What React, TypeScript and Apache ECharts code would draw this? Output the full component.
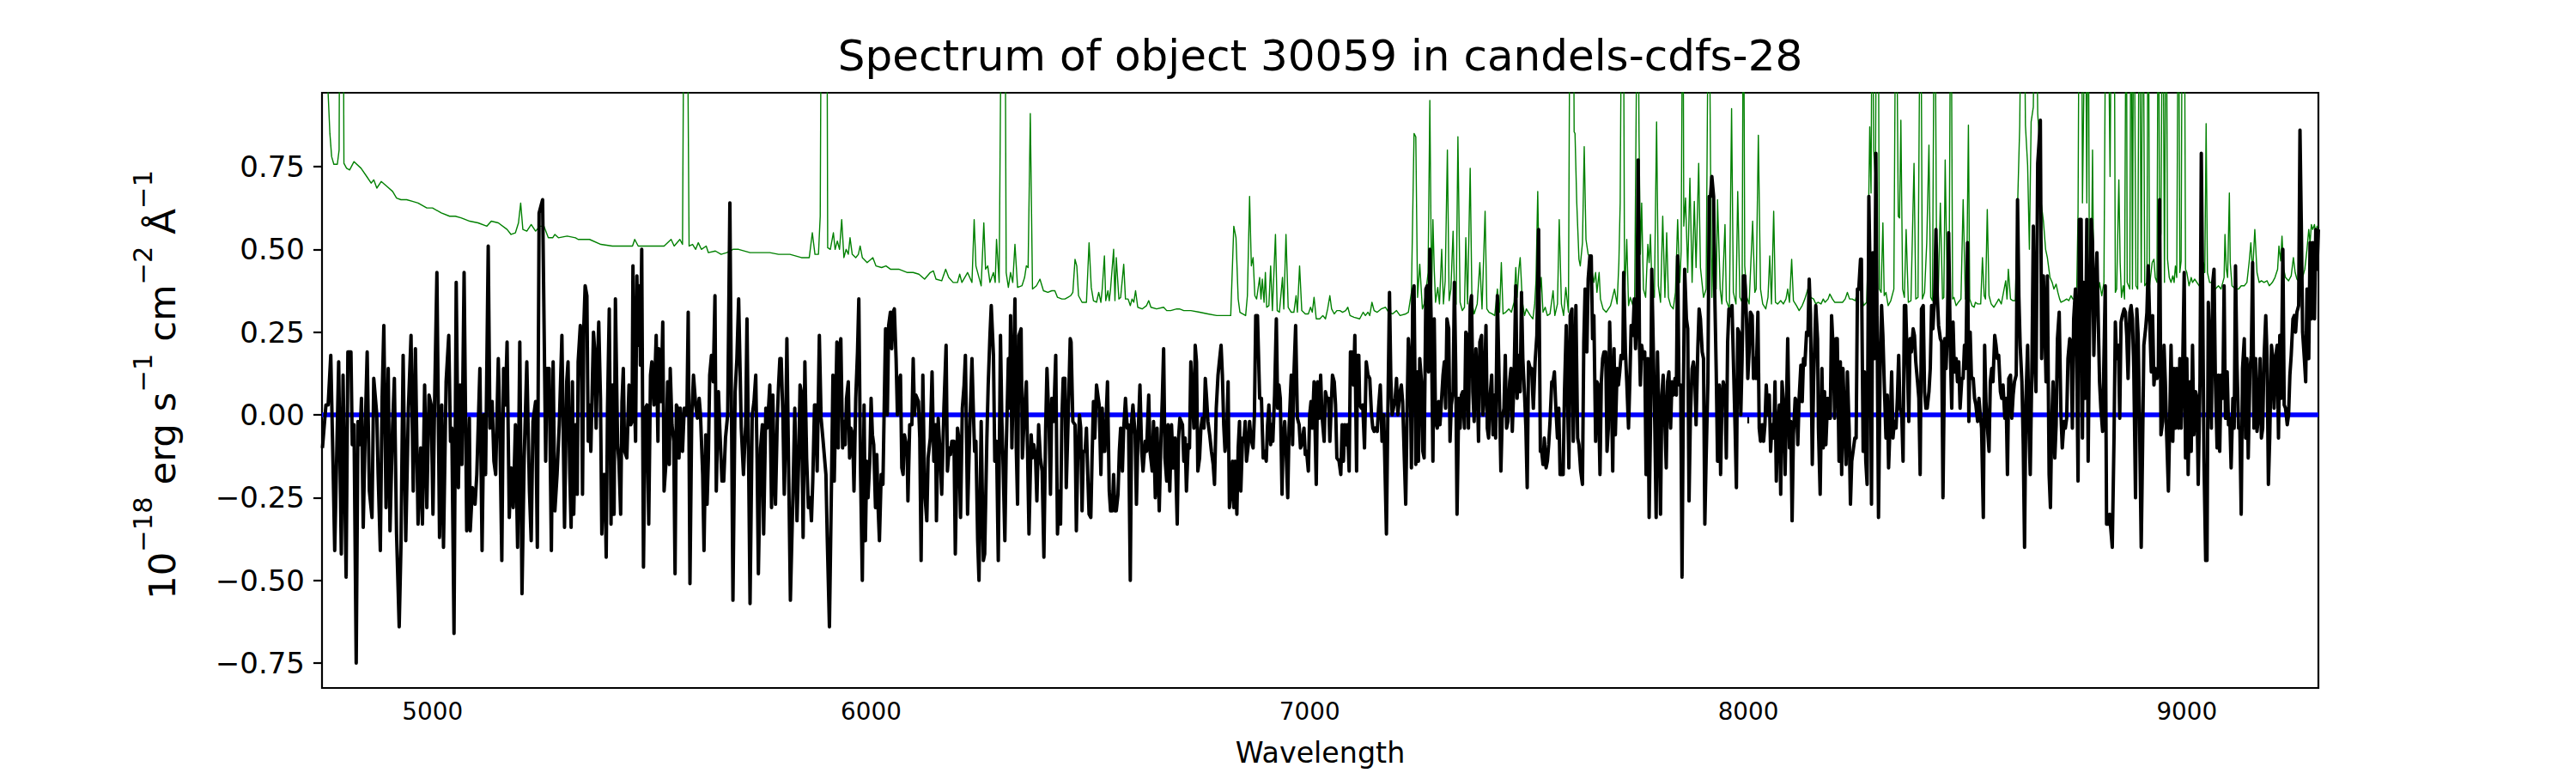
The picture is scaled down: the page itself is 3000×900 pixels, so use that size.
import React, { useEffect, useRef } from "react";
import * as echarts from "echarts";

const FONT = "'DejaVu Sans', sans-serif";
const TITLE = "Spectrum of object 30059 in candels-cdfs-28";
const X_LABEL = "Wavelength";
const Y_LABEL_RICH = "{n|10}{s|\u221218}{n| erg s}{s|\u22121}{n| cm}{s|\u22122}{n| \u00c5}{s|\u22121}";
const X_MIN = 4748;
const X_MAX = 9300;
const Y_MIN = -0.825;
const Y_MAX = 0.973;
const X_TICKS = [5000, 6000, 7000, 8000, 9000];
const Y_TICKS = [-0.75, -0.5, -0.25, 0, 0.25, 0.5, 0.75];
const ZERO_LEVEL = 0;

// observed flux (black), [wavelength, value]
const flux1 = [[4749,-0.10],[4757,0.03],[4762,0.03],[4768,0.18],[4773,-0.14],[4777,-0.41],[4786,0.16],[4792,-0.42],[4796,0.12],[4803,-0.49],[4807,0.19],[4814,0.19],[4817,-0.09],[4821,-0.03],[4826,-0.75],[4830,-0.02],[4834,-0.09],[4838,0.05],[4842,-0.34],[4847,-0.02],[4851,0.19],[4856,-0.23],[4862,-0.31],[4866,0.11],[4873,0.00],[4876,-0.18],[4881,-0.41],[4885,0.05],[4889,0.27],[4894,-0.28],[4899,0.14],[4903,-0.35],[4909,-0.03],[4913,0.11],[4918,-0.36],[4924,-0.64],[4928,-0.40],[4933,0.18],[4939,-0.38],[4945,0.02],[4951,0.24],[4956,-0.23],[4961,0.20],[4967,-0.33],[4973,-0.10],[4977,-0.33],[4982,0.09],[4987,-0.28],[4992,0.06],[4997,0.03],[5001,-0.30],[5005,0.06],[5010,0.43],[5016,-0.37],[5021,0.03],[5025,-0.40],[5031,0.10],[5037,0.24],[5041,-0.08],[5044,-0.04],[5049,-0.66],[5054,0.40],[5059,-0.22],[5063,0.09],[5067,-0.15],[5072,0.43],[5078,-0.35],[5084,-0.01],[5086,-0.35],[5091,-0.22],[5097,-0.27],[5101,-0.18],[5108,0.14],[5113,-0.41],[5117,0.00],[5121,-0.18],[5127,0.51],[5131,-0.04],[5136,0.04],[5140,-0.14],[5144,-0.18],[5150,0.17],[5153,0.00],[5158,-0.44],[5162,0.14],[5166,0.03],[5170,0.22],[5175,-0.31],[5179,-0.16],[5184,-0.28],[5189,-0.03],[5194,-0.40],[5199,0.22],[5204,-0.54],[5209,-0.13],[5215,0.16],[5221,-0.23],[5225,-0.38],[5229,-0.02],[5235,0.04],[5239,-0.40],[5243,0.61],[5251,0.65],[5258,-0.14],[5261,0.14],[5266,0.14],[5271,-0.41],[5275,0.16],[5279,-0.29],[5284,-0.18],[5289,-0.03],[5295,0.24],[5301,-0.34]];
const flux2 = [[5306,0.10],[5309,0.16],[5313,-0.18],[5316,-0.34],[5319,0.10],[5322,-0.30],[5326,-0.03],[5330,-0.24],[5332,0.16],[5337,0.27],[5340,0.10],[5342,-0.24],[5345,0.27],[5348,0.39],[5352,0.36],[5355,-0.08],[5358,0.03],[5361,-0.11],[5367,0.25],[5370,0.19],[5373,-0.04],[5376,0.14],[5379,0.28],[5383,0.05],[5386,-0.36],[5390,-0.18],[5393,-0.18],[5396,-0.43],[5399,0.02],[5403,0.32],[5407,-0.33],[5410,0.09],[5414,-0.30],[5417,0.35],[5422,-0.09],[5425,-0.14],[5429,-0.30],[5432,0.04],[5435,0.14],[5438,-0.11],[5443,-0.13],[5448,0.09],[5452,-0.03],[5455,-0.02],[5457,0.45],[5460,0.08],[5463,-0.08],[5466,0.42],[5469,0.21],[5472,0.39],[5474,0.15],[5477,0.50],[5481,-0.46],[5485,0.02],[5489,0.03],[5493,-0.33],[5497,0.12],[5500,0.16],[5505,0.03],[5510,0.24],[5514,-0.08],[5516,0.20],[5521,0.04],[5525,0.28],[5528,-0.23],[5532,-0.15],[5536,0.10],[5540,-0.15],[5542,0.14],[5546,-0.03],[5550,-0.08],[5553,-0.48],[5556,0.03],[5559,0.02],[5562,-0.13],[5565,0.02],[5570,-0.11],[5574,0.02],[5580,0.00],[5583,0.31],[5587,-0.51],[5591,-0.01],[5595,0.12],[5600,0.03],[5604,-0.01],[5608,0.05],[5611,0.00],[5616,-0.18],[5619,-0.41],[5623,-0.06],[5626,-0.27],[5629,-0.13],[5632,0.12],[5636,0.18],[5640,0.10],[5644,0.36],[5647,-0.23],[5652,0.07],[5655,-0.04],[5660,-0.20],[5664,-0.20],[5668,-0.07],[5673,0.00],[5678,0.64],[5685,-0.56],[5690,0.07],[5694,0.17],[5698,0.35],[5704,-0.04],[5709,-0.18],[5714,-0.03],[5717,0.29],[5721,-0.18],[5724,-0.57],[5729,0.00],[5733,0.04],[5737,0.12],[5740,-0.13],[5743,-0.48],[5748,-0.10],[5752,-0.03],[5755,-0.36],[5760,0.02],[5763,-0.04],[5766,0.02],[5769,0.09],[5773,-0.28],[5776,0.06],[5779,-0.17],[5782,-0.27],[5786,-0.02],[5789,0.09],[5792,0.17],[5795,0.17],[5799,-0.01],[5802,-0.24],[5805,-0.07],[5808,0.23],[5813,-0.26],[5816,-0.56],[5822,-0.23],[5826,0.02],[5831,-0.32],[5835,-0.13],[5838,0.09],[5841,0.07],[5845,-0.37],[5849,0.16],[5853,-0.13],[5857,-0.28],[5861,-0.25],[5864,-0.32],[5867,-0.20],[5871,0.03]];
const flux3 = [[5874,0.03],[5877,-0.17],[5882,0.24],[5886,-0.01],[5890,-0.07],[5897,-0.18],[5900,-0.37],[5905,-0.64],[5910,-0.18],[5913,0.12],[5916,-0.20],[5922,0.22],[5925,-0.10],[5928,0.20],[5931,0.23],[5935,-0.10],[5938,-0.02],[5941,-0.09],[5944,0.05],[5948,0.10],[5951,-0.13],[5954,-0.04],[5958,-0.06],[5961,-0.23],[5965,0.05],[5969,0.19],[5972,0.35],[5976,-0.18],[5980,-0.50],[5984,0.03],[5987,-0.38],[5990,-0.14],[5993,-0.25],[5997,-0.14],[6000,0.05],[6003,-0.06],[6006,-0.09],[6010,-0.28],[6013,-0.12],[6016,-0.28],[6019,-0.38],[6023,-0.18],[6027,-0.21],[6031,0.11],[6033,0.26],[6037,0.00],[6040,0.27],[6044,0.31],[6047,0.20],[6050,0.31],[6053,0.32],[6057,0.17],[6060,0.00],[6063,0.10],[6067,0.12],[6070,-0.16],[6073,-0.18],[6076,-0.06],[6082,-0.10],[6084,-0.26],[6088,-0.03],[6093,-0.03],[6096,0.17],[6099,0.00],[6102,0.06],[6108,0.04],[6111,-0.07],[6114,-0.44],[6118,0.12],[6122,-0.23],[6127,-0.32],[6130,-0.13],[6135,-0.07],[6139,0.13],[6143,-0.14],[6147,-0.03],[6149,-0.32],[6153,-0.01],[6157,-0.11],[6161,-0.24],[6166,0.02],[6171,0.21],[6174,-0.17],[6178,-0.10],[6181,-0.12],[6184,-0.08],[6189,-0.08],[6192,-0.42],[6197,-0.04],[6200,-0.07],[6204,-0.31],[6208,0.02],[6212,0.09],[6215,0.18],[6220,-0.30],[6225,-0.04],[6230,0.17],[6233,0.02],[6236,-0.11],[6239,-0.08],[6243,-0.38],[6246,-0.50],[6251,-0.02],[6256,-0.44],[6259,-0.42],[6264,-0.07],[6267,0.09],[6271,0.24],[6274,0.33],[6279,0.18],[6282,-0.14],[6286,-0.08],[6290,-0.44],[6295,0.24],[6298,-0.01],[6301,-0.15],[6305,-0.38],[6308,-0.11],[6313,0.17],[6316,0.02],[6318,0.30],[6321,-0.10],[6324,0.09],[6328,0.35],[6331,-0.10],[6334,-0.27],[6337,0.24],[6342,0.26],[6345,-0.13],[6350,0.02],[6354,0.10],[6357,-0.13],[6360,-0.36],[6365,-0.06],[6368,-0.13],[6371,-0.09],[6375,-0.13],[6378,-0.26],[6382,-0.03],[6386,-0.13],[6390,-0.17],[6394,-0.43],[6398,-0.04],[6401,0.14],[6406,-0.04],[6409,-0.24],[6412,0.05],[6416,-0.02],[6421,0.18],[6425,-0.36],[6429,-0.23],[6432,-0.33],[6435,-0.01],[6438,0.11]];
const flux4 = [[6442,0.11],[6445,-0.22],[6450,0.02],[6454,0.23],[6456,0.22],[6460,-0.02],[6465,-0.03],[6468,-0.35],[6471,-0.14],[6475,0.00],[6478,-0.04],[6481,-0.29],[6484,-0.11],[6488,-0.11],[6491,-0.04],[6494,-0.18],[6497,-0.30],[6501,-0.31],[6504,-0.12],[6507,0.04],[6510,-0.07],[6514,0.09],[6517,0.06],[6520,0.03],[6524,-0.18],[6527,0.02],[6530,-0.11],[6533,-0.11],[6539,0.10],[6543,-0.23],[6546,-0.29],[6550,-0.29],[6553,-0.18],[6556,-0.29],[6559,-0.29],[6563,-0.24],[6566,-0.11],[6569,-0.04],[6573,-0.17],[6576,-0.04],[6580,0.05],[6584,-0.04],[6587,-0.03],[6591,-0.50],[6594,-0.02],[6597,0.03],[6602,-0.06],[6605,-0.27],[6608,-0.09],[6613,0.09],[6617,-0.11],[6620,-0.17],[6625,-0.08],[6628,-0.11],[6633,0.06],[6636,-0.11],[6641,-0.17],[6644,-0.02],[6648,-0.25],[6652,-0.04],[6657,-0.29],[6661,-0.07],[6664,0.05],[6667,0.20],[6670,-0.13],[6674,-0.20],[6677,-0.03],[6681,-0.23],[6685,-0.03],[6689,-0.16],[6693,-0.07],[6698,-0.33],[6701,-0.07],[6704,-0.01],[6710,-0.03],[6713,-0.14],[6716,-0.07],[6719,-0.23],[6723,-0.09],[6726,-0.10],[6729,0.16],[6732,0.07],[6736,-0.04],[6739,0.21],[6742,0.16],[6745,-0.17],[6749,-0.13],[6752,-0.04],[6755,-0.01],[6759,-0.04],[6762,0.11],[6765,0.05],[6768,-0.02],[6772,-0.06],[6776,-0.11],[6780,-0.15],[6783,-0.21],[6787,0.02],[6791,0.12],[6794,0.16],[6798,0.21],[6801,0.12],[6804,-0.03],[6807,-0.11],[6811,-0.05],[6814,0.10],[6817,-0.28],[6820,-0.24],[6824,-0.14],[6827,-0.28],[6830,-0.14],[6834,-0.30],[6837,-0.10],[6840,-0.02],[6843,-0.23],[6847,-0.07],[6850,-0.08],[6853,-0.02],[6856,-0.14],[6860,-0.09],[6863,-0.02],[6866,-0.07],[6871,-0.10],[6874,0.00],[6877,0.30],[6881,0.30],[6886,0.05],[6890,0.05],[6894,-0.13],[6897,-0.11],[6901,-0.14],[6904,-0.03],[6907,0.03],[6911,-0.09],[6913,-0.03],[6916,-0.08],[6920,0.06],[6924,0.29],[6927,0.02],[6930,0.09],[6933,0.05],[6937,-0.24],[6939,-0.10],[6943,-0.02],[6946,-0.10],[6950,-0.25],[6953,-0.04],[6958,0.12],[6961,-0.09],[6964,0.12],[6968,0.27],[6972,-0.01],[6976,-0.03],[6979,-0.10],[6982,-0.09],[6987,-0.04],[6990,-0.12],[6993,-0.11],[6997,-0.17],[7000,0.00],[7003,0.04],[7006,-0.04]];
const flux5 = [[7010,0.10],[7015,-0.21],[7018,0.10],[7022,-0.01],[7025,0.12],[7028,0.00],[7033,-0.08],[7036,0.07],[7039,0.05],[7043,0.05],[7046,-0.08],[7049,0.02],[7052,0.12],[7056,0.10],[7059,0.03],[7062,-0.13],[7067,-0.14],[7071,-0.18],[7074,-0.03],[7077,-0.14],[7080,-0.03],[7084,-0.09],[7086,-0.03],[7090,-0.17],[7093,0.19],[7096,0.19],[7100,0.09],[7103,0.24],[7107,-0.17],[7109,0.18],[7112,0.18],[7114,0.03],[7118,0.02],[7121,0.03],[7125,-0.10],[7129,0.16],[7133,0.12],[7137,0.11],[7141,0.00],[7144,-0.04],[7147,-0.05],[7150,-0.04],[7154,-0.05],[7157,0.02],[7161,0.09],[7165,-0.08],[7169,0.00],[7172,-0.18],[7175,-0.36],[7178,-0.02],[7182,0.37],[7185,0.11],[7188,0.00],[7191,0.02],[7195,0.05],[7198,0.11],[7201,0.00],[7206,0.07],[7209,0.09],[7212,0.04],[7216,-0.14],[7219,-0.27],[7222,0.00],[7225,0.23],[7229,0.15],[7232,-0.16],[7235,0.37],[7238,0.39],[7242,-0.15],[7245,0.13],[7248,-0.14],[7251,0.17],[7255,0.10],[7258,-0.11],[7261,-0.13],[7265,0.38],[7268,0.39],[7271,0.13],[7274,0.50],[7278,0.21],[7281,-0.14],[7284,0.29],[7287,-0.02],[7291,-0.04],[7294,0.04],[7297,-0.03],[7300,0.03],[7304,0.12],[7307,0.16],[7310,0.02],[7313,0.29],[7317,0.26],[7320,-0.08],[7323,0.03],[7327,0.07],[7330,0.40],[7333,0.14],[7336,-0.30],[7340,0.05],[7343,-0.04],[7346,0.06],[7349,0.07],[7353,-0.04],[7356,0.25],[7359,0.24],[7362,-0.04],[7366,0.33],[7369,0.36],[7372,0.07],[7375,-0.02],[7379,0.20],[7382,0.10],[7385,-0.08],[7388,0.22],[7392,0.24],[7395,0.00],[7398,0.06],[7402,0.27],[7405,-0.04],[7408,-0.07],[7411,0.05],[7415,0.12],[7418,-0.06],[7421,0.06],[7424,-0.07],[7428,0.36],[7431,0.17],[7436,-0.17],[7439,-0.01],[7443,0.02],[7446,0.18],[7449,-0.04],[7452,-0.02],[7456,0.10],[7459,0.14],[7462,-0.05],[7466,0.11],[7470,0.39],[7473,0.05],[7477,0.18],[7480,0.07],[7483,0.37],[7486,0.17],[7490,0.06],[7493,-0.04],[7496,-0.22],[7499,0.16],[7503,0.14],[7506,0.14],[7510,0.02],[7514,0.16],[7518,0.24],[7522,0.56],[7526,-0.11],[7529,-0.11],[7532,-0.15],[7535,-0.07],[7539,-0.16],[7542,-0.14],[7545,-0.09],[7548,-0.02],[7552,0.10],[7555,0.10],[7558,0.13],[7561,0.03],[7565,-0.07],[7568,0.02],[7571,-0.18],[7575,-0.18]];
const flux6 = [[7578,-0.18],[7581,0.07],[7585,0.27],[7588,0.05],[7591,-0.16],[7594,0.30],[7598,0.32],[7601,-0.08],[7604,0.11],[7607,0.33],[7611,-0.07],[7614,-0.09],[7618,-0.17],[7622,-0.21],[7625,0.22],[7628,0.38],[7632,0.19],[7635,0.41],[7639,0.48],[7642,0.48],[7645,0.23],[7648,0.30],[7652,-0.08],[7655,0.10],[7658,0.09],[7662,-0.18],[7665,0.10],[7668,0.17],[7671,0.19],[7675,0.19],[7678,-0.11],[7681,-0.04],[7684,0.28],[7688,0.07],[7691,-0.17],[7694,0.20],[7697,-0.06],[7701,0.14],[7704,0.09],[7707,0.13],[7710,0.18],[7714,0.17],[7716,0.43],[7720,0.19],[7723,0.10],[7727,-0.04],[7730,0.10],[7733,0.27],[7737,0.24],[7740,0.35],[7743,0.20],[7746,0.29],[7749,0.77],[7752,0.21],[7754,0.09],[7757,0.21],[7761,0.17],[7764,0.19],[7767,-0.18],[7771,0.17],[7774,-0.31],[7777,-0.04],[7780,0.44],[7784,0.17],[7787,-0.04],[7790,-0.31],[7793,0.19],[7797,-0.06],[7800,-0.30],[7803,0.06],[7806,0.12],[7810,-0.03],[7813,-0.16],[7816,0.10],[7819,0.13],[7823,-0.04],[7826,0.10],[7829,0.06],[7833,0.11],[7836,0.06],[7839,0.48],[7842,0.09],[7846,0.09],[7849,-0.49],[7852,0.05],[7855,0.44],[7859,0.29],[7862,0.26],[7865,-0.26],[7868,-0.01],[7872,0.14],[7875,0.16],[7878,0.12],[7881,-0.03],[7885,0.20],[7888,0.32],[7891,0.29],[7895,0.19],[7898,0.17],[7901,-0.33],[7904,-0.13],[7908,0.10],[7911,0.66],[7914,0.66],[7917,0.72],[7921,0.66],[7924,0.34],[7927,0.13],[7930,-0.14],[7934,0.09],[7937,-0.18],[7940,0.04],[7943,0.10],[7947,0.07],[7950,-0.13],[7953,0.22],[7956,0.32],[7960,0.30],[7963,0.33],[7966,0.17],[7970,-0.04],[7973,-0.22],[7976,0.26],[7979,0.25],[7983,0.00],[7986,0.17],[7989,0.42],[7992,0.42],[7996,0.29],[7999,0.11],[8002,0.19],[8005,0.31],[8009,0.30],[8012,0.11],[8015,0.17],[8018,0.11],[8022,0.31],[8025,-0.04],[8028,-0.08],[8032,-0.03],[8035,-0.08],[8038,-0.03],[8041,0.09],[8045,0.00],[8048,0.06],[8051,-0.11],[8054,-0.03],[8058,-0.07],[8061,0.10],[8064,-0.20],[8067,-0.04],[8071,0.03],[8074,-0.24],[8077,0.10],[8081,0.02],[8084,-0.18],[8087,0.02],[8090,0.23],[8094,-0.10],[8097,-0.02],[8100,-0.32],[8103,-0.06],[8107,0.05],[8110,0.04],[8113,-0.09],[8116,0.05],[8120,0.15],[8123,0.04],[8126,0.17],[8129,0.15],[8133,0.25],[8136,0.24],[8139,0.41],[8142,0.30]];
const flux7 = [[8146,-0.15],[8149,0.10],[8154,0.33],[8158,0.23],[8160,-0.04],[8164,-0.24],[8168,0.14],[8171,-0.10],[8174,0.07],[8177,-0.09],[8181,0.05],[8184,-0.01],[8187,-0.01],[8190,0.30],[8194,0.19],[8197,-0.01],[8200,0.23],[8203,0.23],[8207,-0.14],[8210,0.16],[8213,-0.18],[8216,0.14],[8220,-0.04],[8223,-0.15],[8226,0.13],[8230,-0.04],[8233,-0.27],[8236,-0.14],[8239,-0.11],[8243,-0.07],[8246,-0.07],[8249,0.38],[8252,0.38],[8256,0.47],[8258,0.47],[8262,-0.11],[8265,0.13],[8268,-0.14],[8271,-0.21],[8275,0.66],[8278,0.40],[8281,-0.27],[8284,0.49],[8288,0.17],[8291,0.79],[8294,0.23],[8297,-0.31],[8301,0.17],[8304,0.33],[8307,0.24],[8310,0.10],[8314,-0.07],[8317,0.06],[8320,-0.16],[8324,-0.01],[8327,0.13],[8330,-0.07],[8333,-0.02],[8337,-0.04],[8340,0.05],[8343,0.18],[8346,0.02],[8350,0.00],[8353,-0.14],[8356,0.33],[8359,0.33],[8363,0.14],[8366,-0.02],[8369,0.23],[8372,0.19],[8376,0.26],[8379,0.24],[8382,0.16],[8386,0.10],[8389,0.05],[8392,-0.18],[8395,0.32],[8399,0.33],[8402,0.07],[8405,0.02],[8408,0.02],[8412,0.07],[8415,0.14],[8418,0.33],[8421,0.26],[8425,0.36],[8428,0.56],[8431,0.36],[8434,0.27],[8438,0.23],[8441,0.22],[8444,-0.25],[8448,0.23],[8451,0.14],[8454,0.25],[8457,0.55],[8461,0.18],[8464,0.02],[8467,0.28],[8470,0.13],[8474,0.17],[8477,0.10],[8480,0.16],[8483,0.02],[8487,0.11],[8490,0.11],[8493,0.21],[8496,0.14],[8500,0.52],[8503,-0.02],[8506,0.25],[8509,0.11],[8513,0.11],[8516,0.05],[8519,0.03],[8523,-0.02],[8526,0.05],[8529,0.00],[8532,-0.04],[8536,-0.31],[8539,0.21],[8542,0.04],[8545,-0.03],[8549,-0.11],[8552,0.10],[8555,0.14],[8558,0.10],[8562,0.24],[8565,0.21],[8568,0.17],[8571,0.18],[8575,0.07],[8578,0.05],[8581,0.09],[8585,-0.01],[8588,0.05],[8591,-0.18],[8594,0.11],[8598,0.12],[8601,-0.01],[8604,0.06],[8607,0.10],[8611,0.12],[8614,0.65],[8617,0.36],[8620,0.21],[8624,0.10],[8627,-0.09],[8630,-0.40],[8633,0.04],[8637,0.21],[8640,-0.04],[8643,-0.18],[8647,0.17],[8650,0.57],[8653,0.17],[8656,0.07],[8660,0.76],[8663,0.82],[8666,0.89],[8669,0.17],[8673,0.42],[8676,0.29],[8679,0.10],[8682,0.42],[8686,-0.18],[8689,-0.28],[8692,-0.02],[8695,0.10],[8699,-0.13],[8702,-0.03],[8705,0.23],[8709,0.31]];
const flux8 = [[8713,0.00],[8716,-0.10],[8720,-0.02],[8723,-0.04],[8726,-0.01],[8729,0.17],[8733,0.23],[8736,0.22],[8739,-0.04],[8742,0.29],[8746,0.38],[8749,0.17],[8752,-0.20],[8755,0.59],[8759,0.59],[8762,-0.07],[8765,0.40],[8768,0.05],[8772,0.59],[8775,-0.14],[8778,0.24],[8782,0.59],[8785,0.52],[8788,0.18],[8791,0.36],[8795,0.49],[8798,0.29],[8801,0.10],[8804,0.02],[8808,-0.05],[8811,0.17],[8814,0.39],[8817,-0.33],[8821,-0.33],[8824,-0.30],[8827,-0.35],[8830,-0.40],[8834,-0.07],[8837,0.28],[8840,0.17],[8844,0.21],[8847,-0.01],[8850,0.28],[8853,0.30],[8857,0.32],[8860,0.31],[8863,0.24],[8866,0.11],[8870,0.31],[8873,0.33],[8876,0.29],[8879,0.14],[8883,-0.25],[8886,0.32],[8889,0.24],[8892,0.00],[8896,-0.40],[8899,-0.11],[8902,0.21],[8906,0.26],[8909,0.31],[8912,0.45],[8915,0.30],[8919,0.13],[8922,0.30],[8925,0.09],[8928,0.14],[8932,0.11],[8935,0.14],[8938,0.65],[8941,-0.06],[8945,-0.02],[8948,0.21],[8951,0.10],[8954,-0.06],[8958,-0.23],[8961,-0.02],[8964,0.21],[8968,-0.08],[8971,0.14],[8974,-0.04],[8977,0.14],[8981,-0.04],[8984,0.17],[8987,-0.04],[8990,0.10],[8994,0.43],[8997,-0.13],[9000,0.17],[9003,-0.18],[9007,0.10],[9010,-0.11],[9013,0.21],[9016,-0.06],[9020,0.07],[9023,0.05],[9026,-0.21],[9030,0.10],[9033,0.79],[9036,0.38],[9039,-0.13],[9043,-0.44],[9046,-0.44],[9049,0.34],[9052,0.22],[9056,-0.04],[9059,0.40],[9062,0.44],[9065,0.11],[9069,-0.10],[9072,0.12],[9075,-0.11],[9078,0.12],[9082,0.05],[9085,0.39],[9088,-0.01],[9092,0.13],[9095,-0.03],[9098,-0.01],[9101,-0.16],[9105,0.05],[9108,-0.04],[9111,0.45],[9114,0.17],[9118,-0.04],[9121,-0.04],[9124,-0.30],[9127,0.14],[9131,0.23],[9134,-0.07],[9137,0.17],[9140,-0.13],[9144,0.14],[9147,0.18],[9150,0.46],[9153,-0.04],[9157,0.17],[9160,-0.05],[9163,-0.01],[9167,0.17],[9170,-0.07],[9173,-0.04],[9176,0.17],[9180,0.30],[9183,0.17],[9186,-0.21],[9189,-0.07],[9193,0.21],[9196,0.17],[9199,0.02],[9202,0.17],[9206,0.21],[9209,-0.07],[9212,0.24],[9215,0.05],[9219,0.50],[9222,0.03],[9225,0.02],[9229,-0.03],[9232,0.00],[9235,0.12],[9238,0.18],[9242,0.29],[9245,0.30],[9248,0.25],[9251,0.31],[9255,0.33],[9258,0.86],[9261,0.58],[9264,0.25],[9268,0.17],[9271,0.10],[9274,0.38],[9278,0.17],[9281,0.52],[9284,0.29],[9287,0.52],[9291,0.29],[9294,0.56],[9297,0.44],[9300,0.56]];

// sky / error spectrum (green), [wavelength, value]
const sky1 = [[4749,1.3],[4762,0.97],[4766,0.85],[4770,0.78],[4775,0.757],[4783,0.757],[4787,0.80],[4789,1.5],[4796,1.5],[4798,0.76],[4804,0.745],[4811,0.74],[4821,0.765],[4837,0.745],[4850,0.72],[4860,0.70],[4866,0.71],[4873,0.685],[4883,0.705],[4896,0.69],[4909,0.675],[4918,0.655],[4928,0.65],[4941,0.65],[4954,0.645],[4967,0.64],[4987,0.625],[5000,0.625],[5020,0.61],[5039,0.60],[5052,0.60],[5065,0.595],[5085,0.585],[5104,0.58],[5124,0.57],[5134,0.585],[5150,0.58],[5170,0.56],[5179,0.545],[5189,0.55],[5196,0.58],[5201,0.64],[5206,0.56],[5215,0.555],[5225,0.575],[5235,0.555],[5245,0.57],[5254,0.57],[5264,0.535],[5274,0.535],[5279,0.545],[5287,0.535],[5307,0.54],[5326,0.535]];
const sky2 = [[5332,0.53],[5358,0.53],[5384,0.515],[5410,0.51],[5437,0.51],[5456,0.51],[5461,0.53],[5469,0.51],[5489,0.51],[5502,0.51],[5528,0.51],[5544,0.53],[5551,0.51],[5564,0.53],[5570,0.515],[5574,1.5],[5580,1.5],[5585,0.51],[5593,0.515],[5600,0.50],[5606,0.52],[5613,0.50],[5624,0.51],[5629,0.49],[5645,0.495],[5658,0.485],[5671,0.49],[5685,0.50],[5698,0.50],[5724,0.49],[5750,0.49],[5769,0.49],[5789,0.485],[5815,0.485],[5841,0.475],[5859,0.475],[5866,0.55],[5872,0.485],[5880,0.485]];
const sky3 = [[5884,0.60],[5887,1.5],[5899,1.5],[5901,0.505],[5907,0.50],[5914,0.55],[5918,0.50],[5923,0.525],[5928,0.50],[5933,0.59],[5938,0.475],[5943,0.50],[5948,0.485],[5952,0.535],[5957,0.485],[5965,0.475],[5971,0.485],[5975,0.51],[5980,0.475],[5991,0.46],[6004,0.475],[6011,0.45],[6024,0.445],[6034,0.45],[6044,0.44],[6063,0.44],[6083,0.43],[6096,0.43],[6109,0.425],[6122,0.41],[6135,0.43],[6142,0.435],[6148,0.41],[6161,0.405],[6170,0.44],[6177,0.415],[6187,0.40],[6197,0.40],[6202,0.425],[6207,0.40],[6220,0.43],[6230,0.40],[6235,0.59],[6239,0.45],[6246,0.415],[6251,0.39],[6257,0.58],[6261,0.44],[6266,0.45],[6271,0.40],[6279,0.43],[6283,0.40],[6286,0.53],[6292,0.40],[6298,1.5],[6305,1.5],[6308,0.43],[6313,0.385],[6318,0.43],[6323,0.40],[6328,0.515],[6334,0.385],[6344,0.39],[6350,0.415],[6354,0.45],[6358,0.445],[6363,0.91],[6368,0.38],[6377,0.39],[6385,0.41],[6393,0.375],[6403,0.37],[6412,0.375],[6419,0.375],[6425,0.355],[6435,0.35]];
const sky4 = [[6442,0.35],[6449,0.355],[6455,0.36],[6460,0.37],[6465,0.47],[6469,0.45],[6473,0.36],[6481,0.34],[6491,0.34],[6497,0.52],[6502,0.385],[6507,0.345],[6514,0.34],[6519,0.37],[6524,0.34],[6527,0.38],[6532,0.48],[6535,0.345],[6540,0.375],[6543,0.345],[6546,0.38],[6553,0.50],[6556,0.345],[6559,0.475],[6565,0.35],[6569,0.355],[6576,0.455],[6580,0.35],[6586,0.35],[6591,0.33],[6595,0.35],[6599,0.34],[6603,0.375],[6608,0.325],[6618,0.32],[6628,0.33],[6633,0.345],[6638,0.325],[6651,0.32],[6667,0.325],[6674,0.315],[6683,0.315],[6697,0.32],[6703,0.32],[6713,0.315],[6729,0.315],[6749,0.31],[6768,0.305],[6788,0.30],[6807,0.30],[6820,0.30],[6827,0.57],[6832,0.535],[6837,0.35],[6841,0.31],[6847,0.305],[6854,0.30],[6858,0.36],[6863,0.66],[6867,0.45],[6871,0.475],[6875,0.36],[6879,0.35],[6886,0.415],[6889,0.35],[6892,0.41],[6896,0.34],[6899,0.43],[6902,0.325],[6907,0.33],[6911,0.45],[6915,0.315],[6922,0.545],[6926,0.315],[6931,0.31],[6938,0.415],[6941,0.32],[6946,0.545],[6951,0.325],[6958,0.31],[6964,0.31],[6969,0.36],[6972,0.31],[6977,0.45],[6982,0.315],[6990,0.305],[6997,0.305],[7002,0.325],[7006,0.31]];
const sky5 = [[7010,0.355],[7015,0.29],[7023,0.29],[7030,0.30],[7036,0.29],[7041,0.32],[7046,0.36],[7050,0.32],[7056,0.305],[7062,0.315],[7069,0.315],[7075,0.31],[7082,0.315],[7087,0.325],[7092,0.30],[7101,0.295],[7114,0.29],[7122,0.31],[7127,0.30],[7133,0.31],[7137,0.30],[7142,0.34],[7147,0.315],[7154,0.31],[7163,0.32],[7173,0.325],[7180,0.31],[7189,0.305],[7198,0.315],[7206,0.30],[7219,0.305],[7225,0.31],[7232,0.37],[7238,0.85],[7242,0.84],[7246,0.355],[7251,0.455],[7257,0.32],[7261,0.335],[7265,0.37],[7270,0.43],[7274,0.95],[7278,0.355],[7281,0.59],[7284,0.44],[7287,0.34],[7292,0.385],[7296,0.335],[7301,0.50],[7305,0.335],[7309,0.405],[7314,0.80],[7318,0.345],[7322,0.38],[7327,0.555],[7331,0.325],[7334,0.335],[7338,0.84],[7343,0.34],[7348,0.315],[7353,0.325],[7356,0.535],[7360,0.335],[7366,0.745],[7370,0.34],[7375,0.305],[7382,0.335],[7388,0.46],[7393,0.32],[7400,0.615],[7404,0.32],[7409,0.31],[7416,0.305],[7422,0.30],[7428,0.38],[7433,0.31],[7437,0.46],[7441,0.305],[7447,0.31],[7454,0.32],[7460,0.31],[7466,0.34],[7470,0.445],[7473,0.355],[7477,0.44],[7480,0.475],[7485,0.34],[7490,0.30],[7494,0.32],[7503,0.30],[7509,0.29],[7513,0.335],[7516,0.405],[7520,0.675],[7524,0.355],[7528,0.415],[7532,0.31],[7537,0.325],[7542,0.30],[7548,0.305],[7555,0.375],[7559,0.30],[7565,0.335],[7569,0.59],[7574,0.335],[7579,0.30],[7584,0.385],[7590,0.31]];
const sky6 = [[7594,1.5],[7601,1.5],[7603,0.855],[7605,0.85],[7609,0.64],[7614,0.47],[7617,0.45],[7622,0.52],[7626,0.81],[7630,0.53],[7635,0.485],[7640,0.475],[7643,0.44],[7648,0.40],[7652,0.43],[7655,0.37],[7660,0.43],[7663,0.35],[7669,0.32],[7676,0.31],[7686,0.33],[7695,0.38],[7701,0.335],[7705,0.46],[7708,0.64],[7712,1.5],[7715,1.5],[7718,0.355],[7723,0.53],[7727,0.33],[7731,0.355],[7737,0.33],[7741,0.355],[7748,1.5],[7751,0.84],[7754,0.485],[7757,0.64],[7761,0.38],[7766,0.355],[7771,0.515],[7774,0.46],[7777,0.545],[7780,0.405],[7786,0.355],[7791,0.885],[7795,0.39],[7800,0.34],[7805,0.60],[7810,0.355],[7814,0.55],[7818,0.355],[7823,0.33],[7829,0.32],[7834,0.37],[7839,0.59],[7844,0.40],[7847,0.495],[7851,1.5],[7853,0.57],[7857,0.655],[7862,0.43],[7867,0.715],[7872,0.40],[7877,0.645],[7881,0.445],[7887,0.76],[7891,0.445],[7898,0.355],[7904,0.38],[7910,1.5],[7914,0.755],[7917,0.355],[7922,0.64],[7927,0.38],[7930,0.65],[7936,0.38],[7940,0.335],[7947,0.575],[7950,0.345],[7957,0.32],[7962,0.925],[7966,0.37],[7972,0.335],[7976,0.675],[7981,0.355],[7986,0.34],[7989,1.5],[7992,0.45],[7997,0.355],[8002,0.335],[8010,0.585],[8015,0.37],[8018,0.38],[8023,0.845],[8028,0.38],[8033,0.335],[8040,0.32],[8045,0.355],[8049,0.48],[8053,0.335],[8058,0.615],[8062,0.34],[8067,0.335],[8074,0.345],[8080,0.335],[8086,0.35],[8090,0.38],[8094,0.34],[8099,0.47],[8103,0.345],[8110,0.33],[8116,0.315],[8123,0.33],[8129,0.35],[8136,0.38],[8142,0.355]];
const sky7 = [[8149,0.35],[8154,0.335],[8159,0.34],[8166,0.335],[8171,0.35],[8175,0.34],[8182,0.35],[8186,0.365],[8192,0.35],[8197,0.34],[8201,0.34],[8208,0.34],[8215,0.34],[8221,0.35],[8226,0.37],[8231,0.35],[8237,0.35],[8244,0.345],[8250,0.38],[8257,0.375],[8263,0.33],[8270,0.34],[8273,0.475],[8277,0.87],[8280,0.67],[8283,1.5],[8286,0.80],[8290,0.71],[8293,1.5],[8296,1.5],[8299,0.38],[8303,0.37],[8307,0.58],[8310,0.36],[8314,0.37],[8319,0.33],[8325,0.345],[8332,0.38],[8337,1.5],[8342,0.60],[8345,0.595],[8348,0.89],[8352,0.38],[8356,0.355],[8360,0.56],[8365,0.34],[8371,0.345],[8378,0.76],[8382,0.35],[8387,0.355],[8393,1.5],[8397,0.35],[8402,0.37],[8407,0.52],[8412,0.815],[8416,0.355],[8420,0.345],[8425,1.5],[8430,0.35],[8433,0.355],[8438,0.64],[8443,0.35],[8446,0.355],[8449,0.77],[8454,0.35],[8458,0.40],[8462,1.5],[8466,0.35],[8469,0.355],[8474,0.33],[8479,0.34],[8485,0.35],[8490,0.65],[8495,0.35],[8498,0.39],[8502,0.875],[8505,0.35],[8510,0.33],[8515,0.325],[8518,0.34],[8523,0.335],[8530,0.335],[8534,0.475],[8538,0.36],[8541,0.35],[8545,0.62],[8549,0.36],[8554,0.335],[8560,0.325],[8567,0.34],[8571,0.35],[8577,0.335],[8582,0.37],[8587,0.405],[8590,0.35],[8593,0.44],[8598,0.35],[8603,0.345],[8609,0.345],[8615,0.675],[8619,0.875],[8624,1.5],[8628,1.5],[8632,0.875],[8637,0.755],[8641,0.50],[8645,0.885],[8650,0.93],[8655,1.5],[8660,0.91],[8665,0.80],[8668,0.64],[8673,0.585],[8678,0.50],[8682,0.475],[8688,0.415],[8693,0.40],[8697,0.38],[8702,0.395],[8706,0.37],[8710,0.35]];
const sky8 = [[8713,0.34],[8720,0.345],[8726,0.35],[8731,0.345],[8736,0.36],[8740,0.35],[8746,0.35],[8749,0.38],[8752,0.615],[8755,1.5],[8760,1.5],[8762,0.64],[8765,0.96],[8768,1.5],[8772,0.64],[8775,1.5],[8778,0.355],[8782,0.37],[8785,0.80],[8788,0.35],[8793,0.355],[8797,0.355],[8801,0.40],[8806,0.36],[8811,0.40],[8816,1.5],[8819,1.5],[8825,0.72],[8829,1.5],[8834,1.5],[8837,0.37],[8840,0.38],[8845,0.71],[8848,0.46],[8851,0.355],[8855,0.39],[8858,0.35],[8862,1.5],[8864,0.40],[8870,0.38],[8873,1.5],[8876,0.38],[8879,1.5],[8884,0.39],[8888,0.38],[8892,1.5],[8896,0.40],[8900,1.5],[8904,0.39],[8909,0.40],[8912,1.5],[8915,0.39],[8921,0.46],[8925,0.47],[8928,0.415],[8932,0.40],[8935,1.5],[8938,0.50],[8941,0.55],[8945,1.5],[8949,0.40],[8953,1.5],[8956,0.47],[8960,0.415],[8964,0.40],[8968,0.42],[8971,0.40],[8974,0.45],[8977,0.415],[8981,1.5],[8984,0.43],[8987,0.465],[8990,1.5],[8994,1.5],[8997,0.44],[9000,0.43],[9005,0.39],[9010,0.415],[9013,0.40],[9018,0.41],[9023,0.40],[9028,0.39],[9033,0.40],[9038,0.46],[9041,0.43],[9044,0.88],[9047,0.43],[9052,0.40],[9059,0.40],[9065,0.38],[9072,0.39],[9078,0.38],[9085,0.415],[9087,0.545],[9090,0.44],[9093,0.415],[9097,0.67],[9099,0.46],[9103,0.39],[9111,0.38],[9118,0.38],[9124,0.39],[9131,0.39],[9137,0.40],[9142,0.46],[9146,0.52],[9150,0.43],[9155,0.56],[9160,0.43],[9165,0.40],[9170,0.405],[9176,0.40],[9183,0.405],[9188,0.39],[9195,0.40],[9201,0.415],[9207,0.44],[9210,0.51],[9214,0.465],[9217,0.54],[9221,0.44],[9225,0.415],[9232,0.405],[9238,0.42],[9243,0.475],[9247,0.43],[9251,0.41],[9258,0.40],[9264,0.415],[9269,0.44],[9274,0.50],[9278,0.56],[9281,0.52],[9284,0.575],[9287,0.56],[9291,0.575],[9294,0.545],[9297,0.57],[9300,0.57]];

export default function App() {
  const ref = useRef<HTMLDivElement>(null);

  useEffect(() => {
    document.body.style.margin = "0";
    const chart = echarts.init(ref.current!, null, { renderer: "svg" });
    const flux = [...flux1, ...flux2, ...flux3, ...flux4, ...flux5, ...flux6, ...flux7, ...flux8];
    const sky = [...sky1, ...sky2, ...sky3, ...sky4, ...sky5, ...sky6, ...sky7, ...sky8];
    const fmtY = (v: number) => v.toFixed(2).replace("-", "\u2212");

    chart.setOption({
      animation: false,
      backgroundColor: "#ffffff",
      grid: {
        left: 375,
        right: 300,
        top: 108,
        bottom: 99,
        show: true,
        borderColor: "#000000",
        borderWidth: 2.2,
        backgroundColor: "transparent",
        containLabel: false,
        outerBoundsMode: "none",
      },
      xAxis: {
        type: "value",
        min: X_MIN,
        max: X_MAX,
        axisLine: { show: false },
        splitLine: { show: false },
        axisTick: {
          show: true,
          length: 10,
          customValues: X_TICKS,
          lineStyle: { color: "#000000", width: 2.2 },
        },
        axisLabel: {
          show: true,
          customValues: X_TICKS,
          margin: 13,
          color: "#000000",
          fontFamily: FONT,
          fontSize: 27.8,
          formatter: (v: number) => String(v),
        },
      },
      yAxis: {
        type: "value",
        min: Y_MIN,
        max: Y_MAX,
        axisLine: { show: false },
        splitLine: { show: false },
        axisTick: {
          show: true,
          length: 10,
          customValues: Y_TICKS,
          lineStyle: { color: "#000000", width: 2.2 },
        },
        axisLabel: {
          show: true,
          customValues: Y_TICKS,
          margin: 20,
          color: "#000000",
          fontFamily: FONT,
          fontSize: 34,
          formatter: fmtY,
        },
      },
      graphic: [
        {
          type: "text",
          x: 1537.5,
          y: 65,
          silent: true,
          style: {
            text: TITLE,
            font: `50px ${FONT}`,
            fill: "#000000",
            textAlign: "center",
            textVerticalAlign: "middle",
            align: "center",
            verticalAlign: "middle",
          },
        },
        {
          type: "text",
          x: 1537.5,
          y: 876,
          silent: true,
          style: {
            text: X_LABEL,
            font: `33.3px ${FONT}`,
            fill: "#000000",
            textAlign: "center",
            textVerticalAlign: "middle",
            align: "center",
            verticalAlign: "middle",
          },
        },
        {
          type: "text",
          x: 181,
          y: 448,
          rotation: Math.PI / 2,
          silent: true,
          style: {
            text: Y_LABEL_RICH,
            fill: "#000000",
            textAlign: "center",
            textVerticalAlign: "middle",
            align: "center",
            verticalAlign: "middle",
            rich: {
              n: { fontSize: 43.5, fontFamily: FONT, lineHeight: 60, verticalAlign: "bottom", fill: "#000000", color: "#000000" },
              s: { fontSize: 30.5, fontFamily: FONT, lineHeight: 32, verticalAlign: "top", fill: "#000000", color: "#000000" },
            },
          },
        },
      ],
      series: [
        {
          name: "sky",
          type: "line",
          data: sky,
          showSymbol: false,
          symbol: "none",
          silent: true,
          clip: true,
          z: 2,
          lineStyle: { color: "#008000", width: 1.4, join: "round" },
          itemStyle: { color: "#008000" },
        },
        {
          name: "zero",
          type: "line",
          data: [[X_MIN, ZERO_LEVEL], [X_MAX, ZERO_LEVEL]],
          showSymbol: false,
          symbol: "none",
          silent: true,
          clip: true,
          z: 3,
          lineStyle: { color: "#0000ff", width: 5.5 },
          itemStyle: { color: "#0000ff" },
        },
        {
          name: "flux",
          type: "line",
          data: flux,
          showSymbol: false,
          symbol: "none",
          silent: true,
          clip: true,
          z: 4,
          lineStyle: { color: "#000000", width: 4, join: "round" },
          itemStyle: { color: "#000000" },
        },
      ],
    });

    return () => chart.dispose();
  }, []);

  return <div ref={ref} style={{ width: 3000, height: 900 }} />;
}
